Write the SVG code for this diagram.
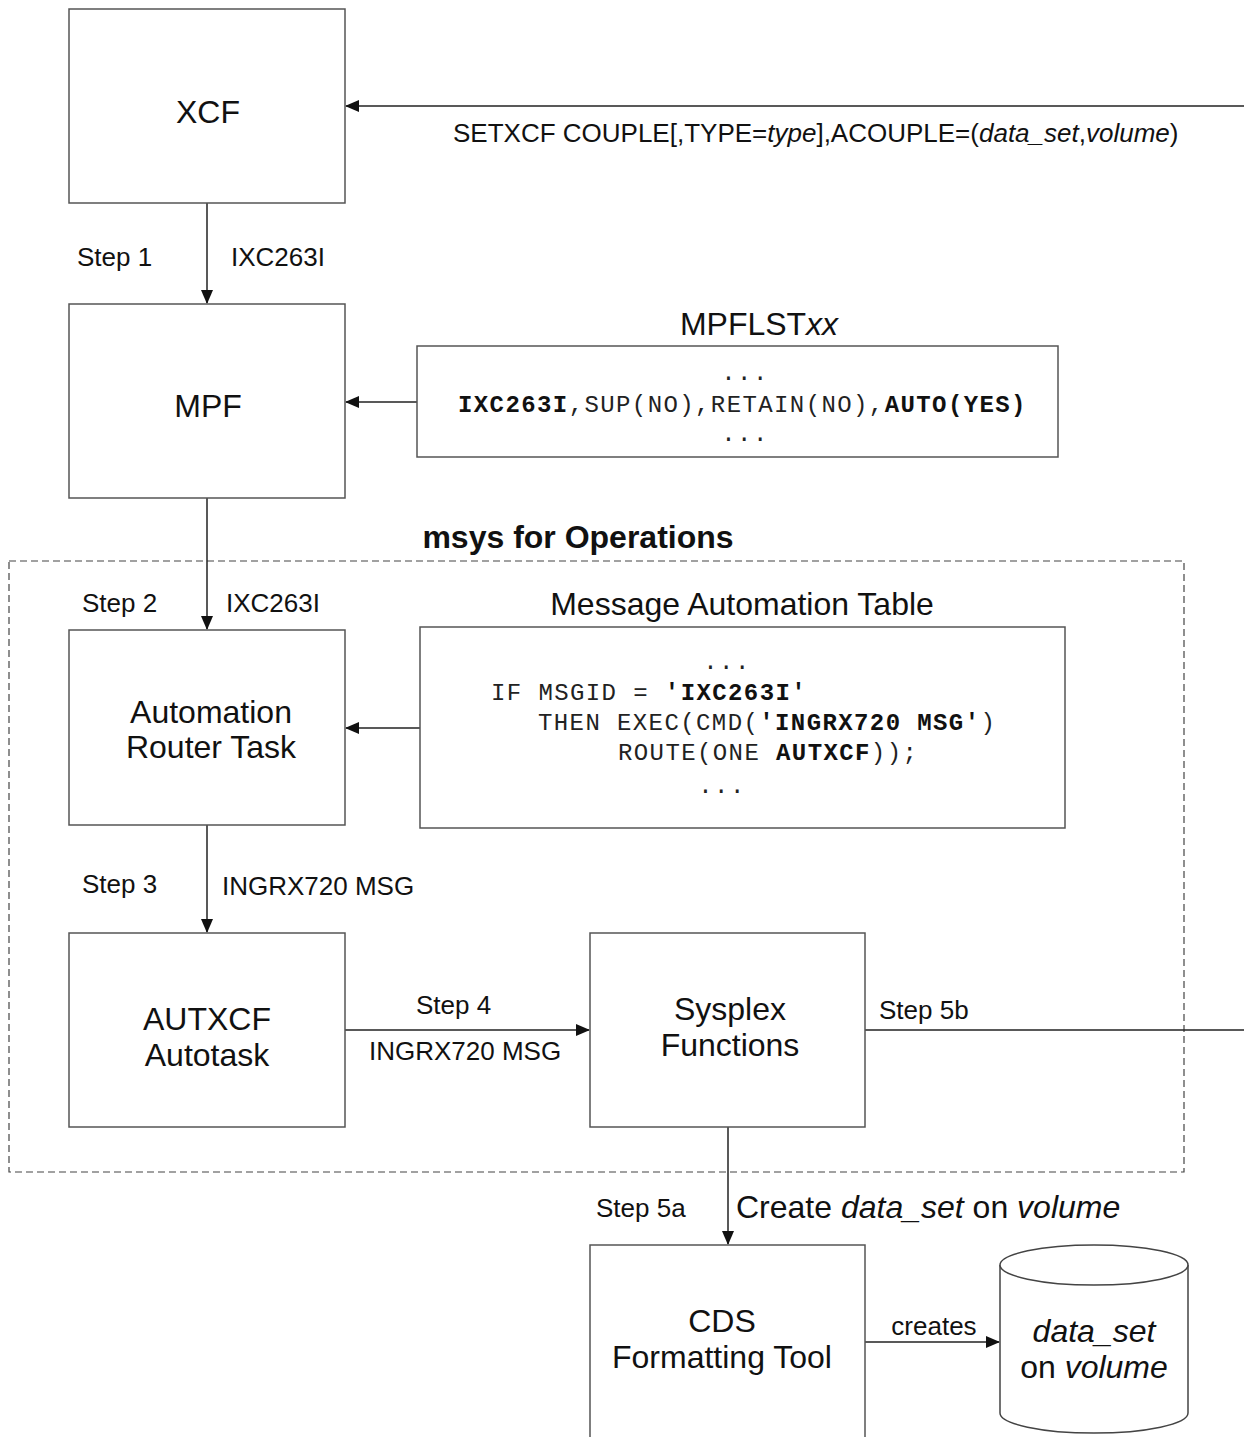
<svg xmlns="http://www.w3.org/2000/svg" width="1244" height="1437" viewBox="0 0 1244 1437">
<style>
.box{fill:#fff;stroke:#555;stroke-width:1.5}
.ln{stroke:#222;stroke-width:1.5;fill:none}
.t{font-family:"Liberation Sans",Arial,sans-serif;fill:#111}
.node{font-size:32px;text-anchor:middle}
.lbl{font-size:26px}
.mono{font-family:"Liberation Mono","Courier New",monospace;font-size:24px;fill:#222;letter-spacing:1.4px}
.b{font-weight:bold;fill:#111}
</style>
<defs>
<marker id="ah" markerWidth="14" markerHeight="12" refX="13" refY="6" orient="auto" markerUnits="userSpaceOnUse">
<path d="M0,0 L14,6 L0,12 Z" fill="#111"/>
</marker>
</defs>
<rect width="1244" height="1437" fill="#fff"/>
<g id="operations-frame">
<rect x="9" y="561" width="1175" height="611" fill="none" stroke="#444" stroke-width="1.2" stroke-dasharray="7,4"/>
<text class="t" x="578" y="548" font-size="32" font-weight="bold" text-anchor="middle">msys for Operations</text>
</g>
<g id="connectors">
<line class="ln" x1="1244" y1="106" x2="346" y2="106" marker-end="url(#ah)"/>
<line class="ln" x1="207" y1="203" x2="207" y2="303" marker-end="url(#ah)"/>
<line class="ln" x1="417" y1="402" x2="346" y2="402" marker-end="url(#ah)"/>
<line class="ln" x1="207" y1="498" x2="207" y2="629" marker-end="url(#ah)"/>
<line class="ln" x1="420" y1="728" x2="346" y2="728" marker-end="url(#ah)"/>
<line class="ln" x1="207" y1="825" x2="207" y2="932" marker-end="url(#ah)"/>
<line class="ln" x1="345" y1="1030" x2="589" y2="1030" marker-end="url(#ah)"/>
<line class="ln" x1="865" y1="1030" x2="1244" y2="1030"/>
<line class="ln" x1="728" y1="1127" x2="728" y2="1244" marker-end="url(#ah)"/>
<line class="ln" x1="865" y1="1342" x2="999" y2="1342" marker-end="url(#ah)"/>
<text class="t lbl" x="453" y="142">SETXCF COUPLE[,TYPE=<tspan font-style="italic">type</tspan>],ACOUPLE=(<tspan font-style="italic">data_set</tspan>,<tspan font-style="italic">volume</tspan>)</text>
<text class="t lbl" x="77" y="266">Step 1</text>
<text class="t lbl" x="231" y="266">IXC263I</text>
<text class="t lbl" x="82" y="612">Step 2</text>
<text class="t lbl" x="226" y="612">IXC263I</text>
<text class="t lbl" x="82" y="893">Step 3</text>
<text class="t lbl" x="222" y="895">INGRX720 MSG</text>
<text class="t lbl" x="416" y="1014">Step 4</text>
<text class="t lbl" x="369" y="1060">INGRX720 MSG</text>
<text class="t lbl" x="879" y="1019">Step 5b</text>
<text class="t lbl" x="596" y="1217">Step 5a</text>
<text class="t" x="736" y="1218" font-size="32">Create <tspan font-style="italic">data_set</tspan> on <tspan font-style="italic">volume</tspan></text>
<text class="t lbl" x="934" y="1335" text-anchor="middle">creates</text>
</g>
<g id="xcf">
<rect class="box" x="69" y="9" width="276" height="194"/>
<text class="t node" x="208" y="123">XCF</text>
</g>
<g id="mpf">
<rect class="box" x="69" y="304" width="276" height="194"/>
<text class="t node" x="208" y="417">MPF</text>
</g>
<g id="mpflst">
<text class="t" x="759" y="335" font-size="32" text-anchor="middle">MPFLST<tspan font-style="italic">xx</tspan></text>
<rect class="box" x="417" y="346" width="641" height="111"/>
<text class="mono" x="745" y="380" text-anchor="middle">...</text>
<text class="mono" x="458" y="412"><tspan class="b">IXC263I</tspan>,SUP(NO),RETAIN(NO),<tspan class="b">AUTO(YES)</tspan></text>
<text class="mono" x="745" y="441" text-anchor="middle">...</text>
</g>
<g id="router">
<rect class="box" x="69" y="630" width="276" height="195"/>
<text class="t node" x="211" y="723">Automation</text>
<text class="t node" x="211" y="758">Router Task</text>
</g>
<g id="mat">
<text class="t" x="742" y="615" font-size="32" text-anchor="middle">Message Automation Table</text>
<rect class="box" x="420" y="627" width="645" height="201"/>
<text class="mono" x="727" y="669" text-anchor="middle">...</text>
<text class="mono" x="491" y="700">IF MSGID = <tspan class="b">'IXC263I'</tspan></text>
<text class="mono" x="538" y="730">THEN EXEC(CMD(<tspan class="b">'INGRX720 MSG'</tspan>)</text>
<text class="mono" x="618" y="760">ROUTE(ONE <tspan class="b">AUTXCF</tspan>));</text>
<text class="mono" x="722" y="793" text-anchor="middle">...</text>
</g>
<g id="autxcf">
<rect class="box" x="69" y="933" width="276" height="194"/>
<text class="t node" x="207" y="1030">AUTXCF</text>
<text class="t node" x="207" y="1066">Autotask</text>
</g>
<g id="sysplex">
<rect class="box" x="590" y="933" width="275" height="194"/>
<text class="t node" x="730" y="1020">Sysplex</text>
<text class="t node" x="730" y="1056">Functions</text>
</g>
<g id="cds">
<rect class="box" x="590" y="1245" width="275" height="200"/>
<text class="t node" x="722" y="1332">CDS</text>
<text class="t node" x="722" y="1368">Formatting Tool</text>
</g>
<g id="dataset">
<path d="M1000,1265 L1000,1413 A94,20 0 0 0 1188,1413 L1188,1265" fill="#fff" stroke="#444" stroke-width="1.5"/>
<ellipse cx="1094" cy="1265" rx="94" ry="20" fill="#fff" stroke="#444" stroke-width="1.5"/>
<text class="t node" x="1094" y="1342" font-style="italic">data_set</text>
<text class="t node" x="1094" y="1378">on <tspan font-style="italic">volume</tspan></text>
</g>
</svg>
